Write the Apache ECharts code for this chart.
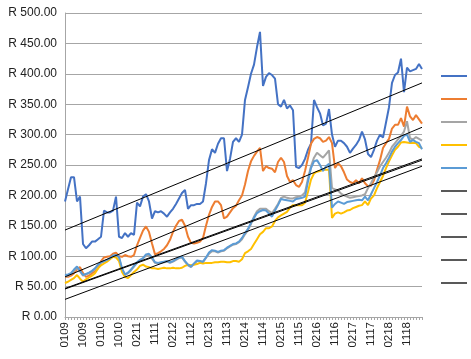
<!DOCTYPE html>
<html>
<head>
<meta charset="utf-8">
<script src="https://cdn.jsdelivr.net/npm/echarts@6/dist/echarts.min.js"></script>
<style>
html,body{margin:0;padding:0;background:#fff;}
#chart{width:471px;height:359px;}
</style>
</head>
<body>
<div id="chart"></div>
<script>
var tickLabels = ['0109','1009','0110','1010','0211','1111','0212','1112','0213','1113','0214','1114','0215','1115','0216','1116','0217','1117','0218','1118'];
var seriesNames = ['Series 1','Series 2','Series 3','Series 4','Series 5'];
var darkBlue = [190,210,230,230,190,198,120,113,118,124,
124,128,132,175,172,172,175,198,132,130,
138,132,138,135,188,182,198,202,190,162,
174,172,174,170,165,172,178,186,195,204,
209,178,184,184,186,186,190,220,258,276,
270,285,294,294,240,260,288,294,288,300,
357,378,400,415,444,469,380,395,401,398,
392,350,346,357,343,348,340,247,245,250,
260,275,285,357,345,335,315,318,342,300,
280,290,290,286,280,270,277,283,291,305,
292,268,263,275,290,300,295,320,345,385,
398,402,425,370,410,404,406,408,416,408];
var orange = [66,66,68,72,78,82,72,66,68,72,
75,80,92,98,99,100,104,106,100,99,
102,100,99,102,118,130,142,149,140,121,
103,105,108,112,118,127,140,150,158,160,
150,132,122,121,122,124,130,150,168,181,
190,190,184,162,165,172,179,183,192,200,
218,240,256,265,272,278,240,248,245,244,
238,255,262,255,232,222,225,217,214,222,
240,262,285,293,296,294,288,290,296,286,
245,253,248,238,226,222,220,225,220,228,
220,215,216,225,242,258,278,286,293,310,
316,316,327,313,346,330,324,332,325,318];
var gray = [67,68,71,76,81,75,68,70,72,75,
79,85,89,91,93,96,100,101,98,78,
69,72,77,83,89,93,96,101,102,96,
89,88,89,90,91,89,91,94,97,98,
91,85,82,87,92,91,90,97,104,108,
108,106,108,109,113,116,119,120,123,128,
136,143,153,165,174,178,178,178,174,171,
178,186,196,198,196,195,195,197,198,200,
205,228,248,262,270,266,262,268,274,212,
210,208,203,200,198,196,197,198,199,200,
202,212,220,230,238,248,255,262,270,280,
286,292,298,305,322,294,292,296,293,290];
var yellow = [56,58,61,64,69,63,58,62,65,68,
72,80,85,88,91,95,99,98,92,74,
66,64,69,74,78,84,86,83,82,80,
80,79,80,81,80,80,81,80,80,81,
84,86,85,86,87,89,88,89,89,89,
90,90,91,91,90,90,92,92,91,95,
105,108,112,120,128,136,140,146,146,149,
158,164,167,170,173,180,184,184,184,184,
188,206,226,236,239,240,242,242,242,163,
170,172,170,172,175,176,179,181,183,184,
190,184,195,200,212,222,232,245,256,266,
275,280,287,288,287,286,286,286,280,278];
var lightBlue = [69,70,72,78,83,76,69,71,73,76,
80,86,90,92,94,97,101,102,99,80,
70,73,78,84,90,94,97,103,104,98,
90,89,90,91,92,90,92,95,98,99,
92,86,83,88,93,92,91,98,106,110,
109,107,109,110,114,117,120,121,124,130,
138,145,155,163,171,174,176,175,170,165,
175,184,194,193,192,191,190,194,195,196,
198,223,245,256,258,250,240,248,252,180,
186,190,188,186,189,190,191,192,193,192,
198,192,202,212,222,233,245,253,262,272,
280,286,291,298,300,288,291,288,286,276];
var trendStart = [143, 66, 47, 46, 29];
var trendEnd = [385, 312, 260, 258, 248];
var colors = ['#4472C4','#ED7D31','#A5A5A5','#FFC000','#5B9BD5'];
var trendLegendColor = '#595959';

var n = darkBlue.length;
var categories = [];
for (var i = 0; i < n; i++) categories.push(String(i));
var values = [darkBlue, orange, gray, yellow, lightBlue];
var series = [];
values.forEach(function (arr, k) {
  series.push({
    name: seriesNames[k], type: 'line', data: arr, showSymbol: false, symbol: 'none',
    lineStyle: {width: 2, color: colors[k]}, itemStyle: {color: colors[k]}, z: 3, animation: false
  });
});
trendStart.forEach(function (s, k) {
  series.push({
    name: 'Trend ' + (k + 1), type: 'line', symbol: 'none', showSymbol: false,
    data: [[0, s], [n - 1, trendEnd[k]]],
    lineStyle: {width: 1, color: '#000'}, itemStyle: {color: trendLegendColor}, z: 4, animation: false
  });
});

var chart = echarts.init(document.getElementById('chart'), null, {renderer: 'canvas'});
chart.setOption({
  animation: false,
  backgroundColor: '#fff',
  grid: {left: 65, right: 49, top: 13, bottom: 42},
  legend: {
    orient: 'vertical', left: 441, top: 75, itemWidth: 26, itemHeight: 2, itemGap: 21,
    icon: 'rect', padding: 0,
    formatter: function () { return ''; }, textStyle: {fontSize: 1, lineHeight: 1},
    data: series.map(function (s) { return s.name; })
  },
  xAxis: {
    type: 'category', data: categories, boundaryGap: false,
    axisLine: {lineStyle: {color: '#a6a6a6'}},
    axisTick: {show: true, interval: 0, length: 3, lineStyle: {color: '#a6a6a6'}},
    axisLabel: {
      interval: 5, rotate: 90, margin: 5, fontSize: 11.5, color: '#222',
      fontFamily: 'Liberation Sans',
      formatter: function (v, idx) { return tickLabels[idx / 6] || ''; }
    },
    splitLine: {show: false}
  },
  yAxis: {
    type: 'value', min: 0, max: 500, interval: 50,
    axisLine: {show: true, lineStyle: {color: '#a6a6a6'}},
    axisTick: {show: false},
    axisLabel: {
      fontSize: 12, color: '#222', fontFamily: 'Liberation Sans', margin: 8,
      formatter: function (v) { return 'R ' + v.toFixed(2); }
    },
    splitLine: {lineStyle: {color: '#a6a6a6', width: 1}}
  },
  series: series
});
</script>
</body>
</html>
